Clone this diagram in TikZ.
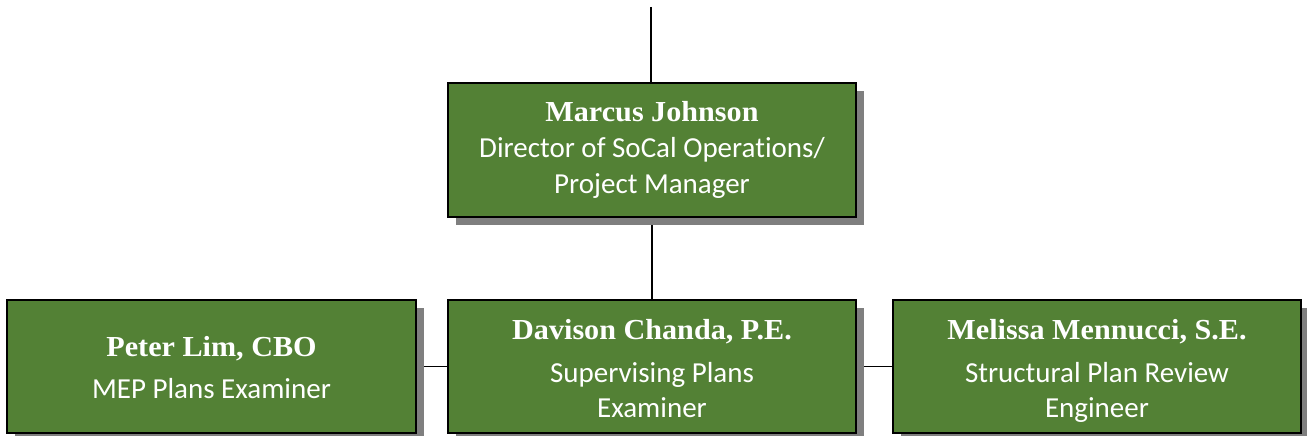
\documentclass[tikz,border=0pt]{standalone}
\usepackage{fontspec}
\setmainfont{Carlito}[Ligatures=NoCommon]
\newfontfamily\namefont{Liberation Serif}[FakeStretch=1.04]
\usetikzlibrary{shadows}
\definecolor{boxgreen}{HTML}{538135}
\definecolor{shadowgray}{HTML}{7F7F7F}
\pgfdeclarelayer{background}
\pgfsetlayers{background,main}
\newcommand{\nm}[2]{\rule{0pt}{#1pt}{\namefont\bfseries\fontsize{29}{35}\selectfont #2}}
\begin{document}
\begin{tikzpicture}[x=1pt,y=-1pt,
  orgbox/.style={draw=black, line width=1.6pt, fill=boxgreen, text=white,
    minimum width=408pt, minimum height=133pt, inner sep=0pt, align=center,
    font=\fontsize{29}{35}\selectfont,
    drop shadow={shadow xshift=8pt, shadow yshift=-8pt, fill=shadowgray, opacity=1}},
  link/.style={draw=black, line width=1.3pt}]
\useasboundingbox (0,0) rectangle (1307,436);
\node[orgbox, minimum height=134pt, font=\fontsize{29}{36}\selectfont] (top) at (652,150)
  {\nm{20}{Marcus Johnson}\\[0pt]Director of SoCal Operations/\\Project Manager};
\node[orgbox] (mid) at (652,366.5)
  {\nm{25}{Davison Chanda, P.E.}\\[8pt]Supervising Plans\\Examiner};
\node[orgbox, minimum width=409pt] (left) at (211.5,366.5)
  {\nm{22}{Peter Lim, CBO}\\[7pt]MEP Plans Examiner};
\node[orgbox] (right) at (1097,366.5)
  {\nm{28}{Melissa Mennucci, S.E.}\\[8pt]Structural Plan Review\\Engineer};
\coordinate (topend) at (651,7);
\begin{pgfonlayer}{background}
\draw[link] (topend) -- (topend |- top.north);
\draw[link] (top.south) -- (mid.north);
\draw[link] (left.east) -- (mid.west);
\draw[link] (mid.east) -- (right.west);
\end{pgfonlayer}
\end{tikzpicture}
\end{document}
